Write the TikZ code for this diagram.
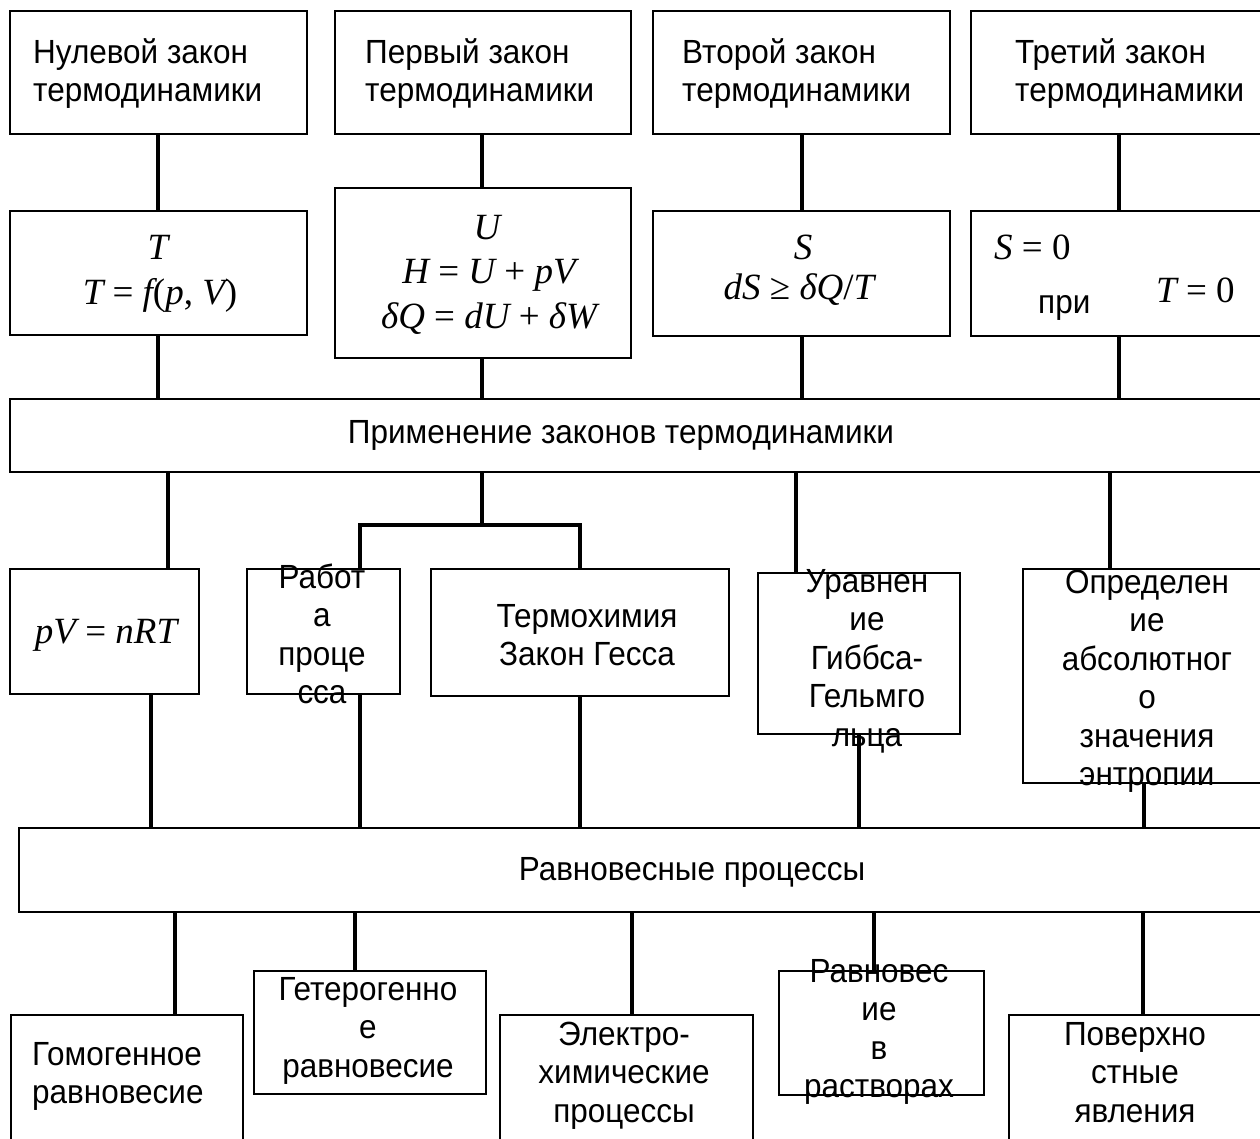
\documentclass[tikz,border=0pt]{standalone}
\usepackage{fontspec}
\setmainfont[FakeStretch=0.94]{Liberation Sans}
\newfontfamily\tms{Liberation Serif}
\newcommand\mi[1]{{\itshape #1}}
\newcommand\ts[1]{\rule{0pt}{#1pt}}
\begin{document}
\begin{tikzpicture}[x=1pt,y=-1pt,
  box/.style={draw, line width=2.5pt, inner sep=0pt, outer sep=0pt, anchor=north west},
  link/.style={line width=3.5pt},
  txt/.style={font=\fontsize{33.5}{38.5}\selectfont, inner sep=0pt},
  mth/.style={font=\tms\fontsize{37}{44}\selectfont, inner sep=0pt}]
\fill[white] (0,0) rectangle (1260,1139);
\useasboundingbox (0,0) rectangle (1260,1139);

% ---------- boxes ----------
\node[box, minimum width=297pt, minimum height=123pt] (A) at (10,11) {};
\node[box, minimum width=296pt, minimum height=123pt] (B) at (335,11) {};
\node[box, minimum width=297pt, minimum height=123pt] (C) at (653,11) {};
\node[box, minimum width=304pt, minimum height=123pt] (D) at (971,11) {};
\node[box, minimum width=297pt, minimum height=124pt] (A2) at (10,211) {};
\node[box, minimum width=296pt, minimum height=170pt] (B2) at (335,188) {};
\node[box, minimum width=297pt, minimum height=125pt] (C2) at (653,211) {};
\node[box, minimum width=304pt, minimum height=125pt] (D2) at (971,211) {};
\node[box, minimum width=1265pt, minimum height=73pt] (App) at (10,399) {};
\node[box, minimum width=189pt, minimum height=125pt] (PV) at (10,569) {};
\node[box, minimum width=153pt, minimum height=125pt] (Rab) at (247,569) {};
\node[box, minimum width=298pt, minimum height=127pt] (Term) at (431,569) {};
\node[box, minimum width=202pt, minimum height=161pt] (Urav) at (758,573) {};
\node[box, minimum width=252pt, minimum height=214pt] (Opr) at (1023,569) {};
\node[box, minimum width=1256pt, minimum height=84pt] (Rav) at (19,828) {};
\node[box, minimum width=232pt, minimum height=135pt] (Gom) at (11,1015) {};
\node[box, minimum width=232pt, minimum height=123pt] (Get) at (254,971) {};
\node[box, minimum width=253pt, minimum height=135pt] (El) at (500,1015) {};
\node[box, minimum width=205pt, minimum height=124pt] (RvR) at (779,971) {};
\node[box, minimum width=266pt, minimum height=135pt] (Pov) at (1009,1015) {};

% ---------- connector columns ----------
\coordinate (k158) at (158,0);
\coordinate (k482) at (482,0);
\coordinate (k802) at (802,0);
\coordinate (k1119) at (1119,0);
\coordinate (k168) at (168,0);
\coordinate (k360) at (360,0);
\coordinate (k580) at (580,0);
\coordinate (k796) at (796,0);
\coordinate (k1110) at (1110,0);
\coordinate (k151) at (151,0);
\coordinate (k859) at (859,0);
\coordinate (k1144) at (1144,0);
\coordinate (k175) at (175,0);
\coordinate (k355) at (355,0);
\coordinate (k632) at (632,0);
\coordinate (k874) at (874,0);
\coordinate (k1143) at (1143,0);
\coordinate (jn) at (482,525);

\draw[link] (k158 |- A.south) -- (k158 |- A2.north);
\draw[link] (k482 |- B.south) -- (k482 |- B2.north);
\draw[link] (k802 |- C.south) -- (k802 |- C2.north);
\draw[link] (k1119 |- D.south) -- (k1119 |- D2.north);
\draw[link] (k158 |- A2.south) -- (k158 |- App.north);
\draw[link] (k482 |- B2.south) -- (k482 |- App.north);
\draw[link] (k802 |- C2.south) -- (k802 |- App.north);
\draw[link] (k1119 |- D2.south) -- (k1119 |- App.north);

\draw[link] (k168 |- App.south) -- (k168 |- PV.north);
\draw[link] (k482 |- App.south) -- (jn);
\draw[link] (k360 |- Rab.north) -- (k360 |- jn) -- (k580 |- jn) -- (k580 |- Term.north);
\draw[link] (k796 |- App.south) -- (k796 |- Urav.north);
\draw[link] (k1110 |- App.south) -- (k1110 |- Opr.north);

\draw[link] (k151 |- PV.south) -- (k151 |- Rav.north);
\draw[link] (k360 |- Rab.south) -- (k360 |- Rav.north);
\draw[link] (k580 |- Term.south) -- (k580 |- Rav.north);
\draw[link] (k859 |- Urav.south) -- (k859 |- Rav.north);
\draw[link] (k1144 |- Opr.south) -- (k1144 |- Rav.north);

\draw[link] (k175 |- Rav.south) -- (k175 |- Gom.north);
\draw[link] (k355 |- Rav.south) -- (k355 |- Get.north);
\draw[link] (k632 |- Rav.south) -- (k632 |- El.north);
\draw[link] (k874 |- Rav.south) -- (k874 |- RvR.north);
\draw[link] (k1143 |- Rav.south) -- (k1143 |- Pov.north);

% ---------- texts ----------
\node[txt, anchor=north west, align=left] (tA) at (33,36) {\ts{27}Нулевой закон\\термодинамики};
\node[txt, anchor=north west, align=left] (tB) at (365,36) {\ts{27}Первый закон\\термодинамики};
\node[txt, anchor=north west, align=left] (tC) at (682,36) {\ts{27}Второй закон\\термодинамики};
\node[txt, anchor=north west, align=left] (tD) at (1015,36) {\ts{27}Третий закон\\термодинамики};

\node[mth, anchor=base] (mA1) at (158,260) {\mi{T}};
\node[mth, anchor=base] (mA2) at (160,305) {\mi{T} = \mi{f}(\mi{p}, \mi{V})};
\node[mth, anchor=base] (mB1) at (487,240) {\mi{U}};
\node[mth, anchor=base] (mB2) at (489,284) {\mi{H} = \mi{U} + \mi{pV}};
\node[mth, anchor=base] (mB3) at (489,328) {\mi{δQ} = \mi{dU} + \mi{δW}};
\node[mth, anchor=base] (mC1) at (803,260) {\mi{S}};
\node[mth, anchor=base] (mC2) at (799,300) {\mi{dS} ≥ \mi{δQ}/\mi{T}};
\node[mth, anchor=base west] (mD1) at (994,260) {\mi{S} = 0};
\node[txt, anchor=base west] (pri) at (1038,313) {при};
\node[mth, anchor=base west] (mD2) at (1156,303) {\mi{T} = 0};

\node[txt, anchor=base] (tApp) at (621,443) {Применение законов термодинамики};

\node[mth, anchor=base] (mPV) at (106,643) {\mi{pV} = \mi{nRT}};
\node[txt, anchor=north, align=center] (tRab) at (322,561) {\ts{27}Работ\\а\\проце\\сса};
\node[txt, anchor=north, align=center] (tTerm) at (587,600) {\ts{27}Термохимия\\Закон Гесса};
\node[txt, anchor=north, align=center] (tUrav) at (867,565) {\ts{27}Уравнен\\ие\\Гиббса-\\Гельмго\\льца};
\node[txt, anchor=north, align=center] (tOpr) at (1147,566) {\ts{27}Определен\\ие\\абсолютног\\о\\значения\\энтропии};

\node[txt, anchor=base] (tRav) at (692,880) {Равновесные процессы};

\node[txt, anchor=north west, align=left] (tGom) at (32,1038) {\ts{27}Гомогенное\\равновесие};
\node[txt, anchor=north, align=center] (tGet) at (368,973) {\ts{27}Гетерогенно\\е\\равновесие};
\node[txt, anchor=north, align=center] (tEl) at (624,1018) {\ts{27}Электро-\\химические\\процессы};
\node[txt, anchor=north, align=center] (tRvR) at (879,955) {\ts{27}Равновес\\ие\\в\\растворах};
\node[txt, anchor=north, align=center] (tPov) at (1135,1018) {\ts{27}Поверхно\\стные\\явления};
\end{tikzpicture}
\end{document}
